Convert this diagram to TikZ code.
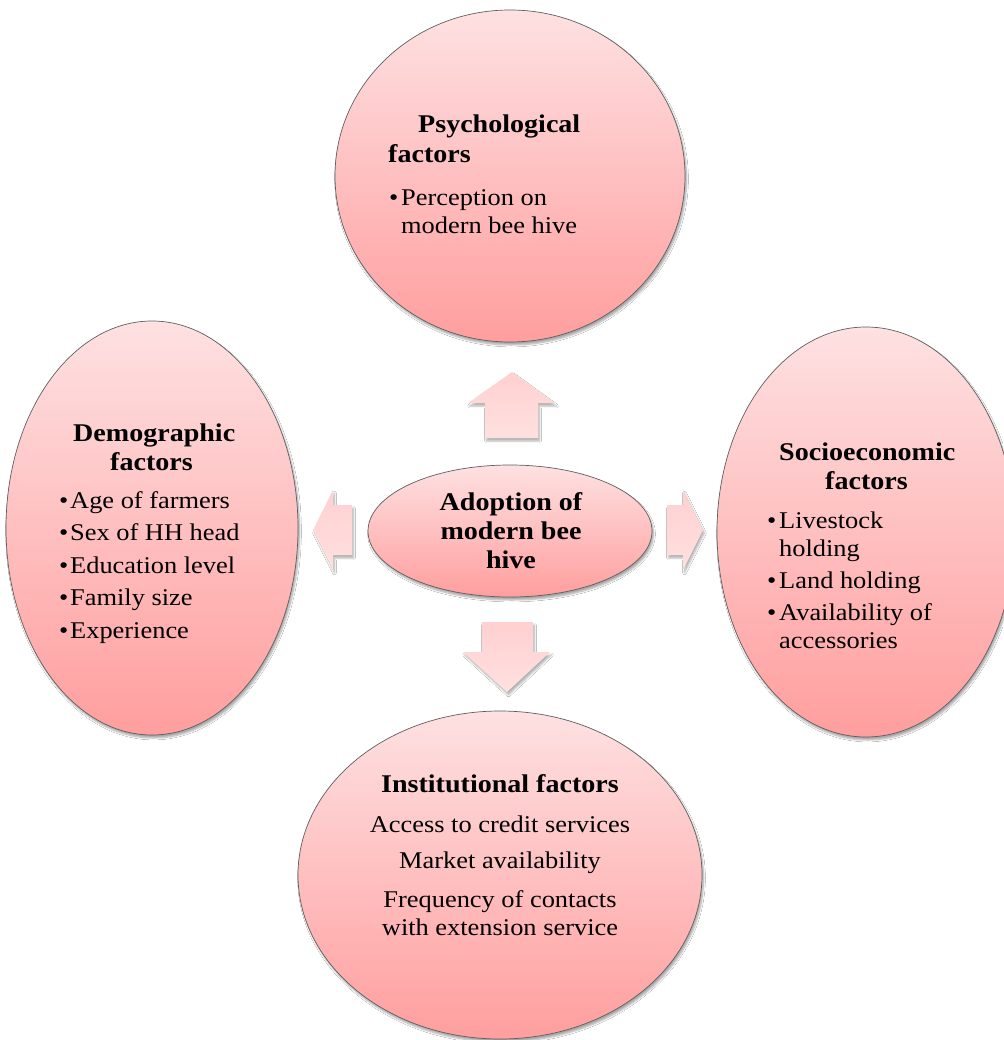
\documentclass[tikz,border=0pt]{standalone}
\usepackage{fontspec}
\setmainfont{Liberation Serif}[FakeStretch=1.1]
\usetikzlibrary{shapes.geometric,shadows.blur}

\definecolor{pinktop}{RGB}{254,225,226}
\definecolor{pinkbot}{RGB}{255,158,158}
\definecolor{rimgray}{RGB}{95,95,95}
\definecolor{arrowtop}{RGB}{255,208,208}
\definecolor{arrowbot}{RGB}{255,224,224}

\tikzset{
  bubble/.style={ellipse, draw=rimgray, line width=0.7pt, inner sep=0pt,
    shading=axis, top color=pinktop, bottom color=pinkbot,
    blur shadow={shadow xshift=1.5pt, shadow yshift=-3pt,
      shadow blur steps=6, shadow opacity=35}},
  blockarrow/.style={top color=arrowtop, bottom color=arrowbot,
    blur shadow={shadow xshift=1.5pt, shadow yshift=-3pt,
      shadow blur steps=5, shadow opacity=30}},
  headtxt/.style={inner sep=0pt, font=\fontsize{25.5}{29.5}\selectfont\bfseries},
  bodytxt/.style={inner sep=0pt, font=\fontsize{24}{28}\selectfont},
}

\begin{document}
\begin{tikzpicture}[x=1pt, y=-1pt]
\path[fill=white, use as bounding box] (0,0) rectangle (1003,1040);

% the five bubbles
\node[bubble, minimum width=350, minimum height=332] (psy) at (510,176) {};
\node[bubble, minimum width=292, minimum height=414] (demo) at (152,528) {};
\node[bubble, minimum width=298, minimum height=410] (socio) at (866,532) {};
\node[bubble, minimum width=404, minimum height=328] (inst) at (500,875) {};
\node[bubble, minimum width=284, minimum height=132] (core) at (510,531) {};

% block arrows pointing outwards from the core
\path[blockarrow] (485,438) -- (485,403) -- (468,403) -- (512,372) -- (555,403)
  -- (538,403) -- (538,438) -- cycle;
\path[blockarrow] (482,622) -- (533,622) -- (533,652) -- (550,652) -- (507,692)
  -- (463,652) -- (482,652) -- cycle;
\path[blockarrow] (352,505) -- (333,505) -- (333,490) -- (313,530) -- (333,570)
  -- (333,555) -- (352,555) -- cycle;
\path[blockarrow] (667,505) -- (683,505) -- (683,490) -- (703,530) -- (683,570)
  -- (683,555) -- (667,555) -- cycle;

% core text
\node[headtxt, anchor=base] (c1) at (511,510) {Adoption of};
\node[headtxt, anchor=base] (c2) at (511,539) {modern bee};
\node[headtxt, anchor=base] (c3) at (511,568) {hive};

% psychological factors
\node[headtxt, anchor=base west] (p1) at (418,133) {Psychological};
\node[headtxt, anchor=base west] (p2) at (388,163) {factors};
\node[bodytxt, anchor=base west] (pb) at (389,206) {•};
\node[bodytxt, anchor=base west] (p3) at (401,206) {Perception on};
\node[bodytxt, anchor=base west] (p4) at (401,234) {modern bee hive};

% demographic factors
\node[headtxt, anchor=base west] (d1) at (73,441) {Demographic};
\node[headtxt, anchor=base west] (d2) at (110,470) {factors};
\foreach \y/\t [count=\i] in {508/Age of farmers, 540/Sex of HH head,
    573/Education level, 605/Family size, 638/Experience} {
  \node[bodytxt, anchor=base west] (db\i) at (59,\y) {•};
  \node[bodytxt, anchor=base west] (dt\i) at (70,\y) {\t};
}

% socioeconomic factors
\node[headtxt, anchor=base west] (s1) at (779,460) {Socioeconomic};
\node[headtxt, anchor=base west] (s2) at (825,489) {factors};
\node[bodytxt, anchor=base west] (sb1) at (767,528) {•};
\node[bodytxt, anchor=base west] (s3) at (779,528) {Livestock};
\node[bodytxt, anchor=base west] (s4) at (779,556) {holding};
\node[bodytxt, anchor=base west] (sb2) at (767,588) {•};
\node[bodytxt, anchor=base west] (s5) at (779,588) {Land holding};
\node[bodytxt, anchor=base west] (sb3) at (767,620) {•};
\node[bodytxt, anchor=base west] (s6) at (779,620) {Availability of};
\node[bodytxt, anchor=base west] (s7) at (779,648) {accessories};

% institutional factors
\node[headtxt, anchor=base] (i1) at (500,792) {Institutional factors};
\node[bodytxt, anchor=base] (i2) at (500,832) {Access to credit services};
\node[bodytxt, anchor=base] (i3) at (500,868) {Market availability};
\node[bodytxt, anchor=base] (i4) at (500,907) {Frequency of contacts};
\node[bodytxt, anchor=base] (i5) at (500,935) {with extension service};
\end{tikzpicture}
\end{document}
